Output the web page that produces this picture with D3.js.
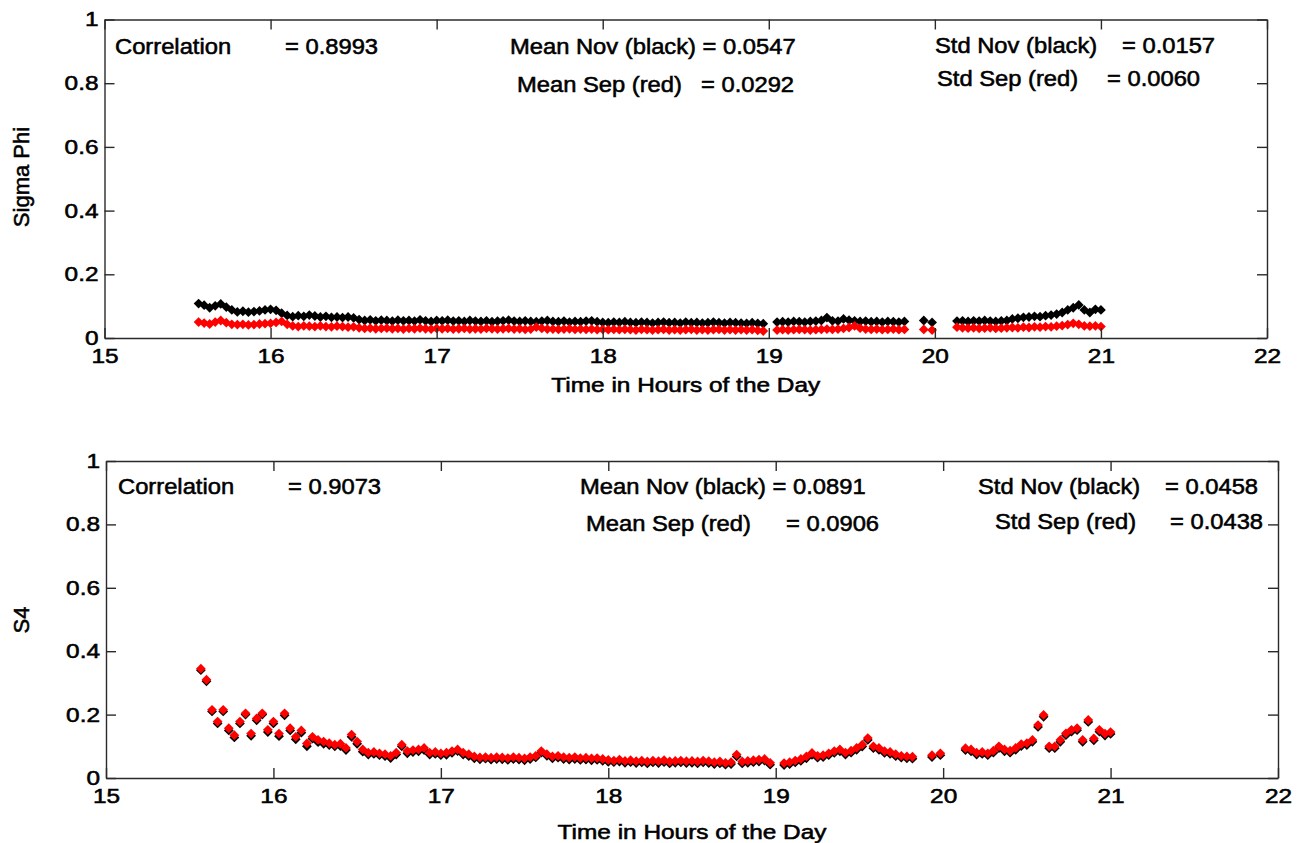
<!DOCTYPE html>
<html><head><meta charset="utf-8">
<script src="https://cdn.jsdelivr.net/npm/d3@7"></script>
<style>
body{margin:0;background:#fff}
svg{display:block}
text{font-family:"Liberation Sans",Arial,Helvetica,sans-serif;fill:#000;stroke:#000;stroke-width:0.55px}
</style>
</head><body>
<svg id="c" width="1306" height="843"></svg>
<script>
// ---- data ----
// sample times, minutes after 15:00
const minutes = [
  34,36,38,40,42,44,46,48,50,52,54,56,58,60,62,64,66,68,70,72,
  74,76,78,80,82,84,86,88,90,92,94,96,98,100,102,104,106,108,110,112,
  114,116,118,120,122,124,126,128,130,132,134,136,138,140,142,144,146,148,150,152,
  154,156,158,160,162,164,166,168,170,172,174,176,178,180,182,184,186,188,190,192,
  194,196,198,200,202,204,206,208,210,212,214,216,218,220,222,224,226,228,230,232,
  234,236,238,
  243,245,247,249,251,253,255,257,259,261,263,265,267,269,271,273,275,277,279,281,283,285,287,289,
  296,299,
  308,310,312,314,316,318,320,322,324,326,328,330,332,334,336,338,340,342,344,346,348,350,352,354,356,358,360
];
const sigmaPhiNov = [
  .108,.103,.095,.101,.107,.097,.088,.082,.084,.081,
  .083,.085,.088,.090,.087,.078,.071,.067,.070,.068,
  .072,.069,.066,.068,.065,.066,.064,.066,.063,.058,
  .055,.057,.054,.056,.055,.053,.056,.054,.055,.053,
  .057,.054,.052,.055,.054,.056,.053,.054,.052,.055,
  .053,.052,.054,.051,.053,.054,.056,.053,.052,.054,
  .052,.051,.053,.055,.052,.051,.053,.050,.052,.051,
  .053,.054,.051,.049,.048,.050,.049,.051,.049,.048,
  .050,.049,.047,.049,.050,.048,.049,.047,.050,.048,
  .049,.047,.048,.050,.048,.047,.049,.048,.047,.046,
  .048,.046,.045,
  .050,.051,.050,.052,.051,.050,.052,.053,.055,.064,.054,.053,.060,.056,.054,.052,.053,.051,.052,.050,.052,.051,.050,.052,
  .055,.049,
  .053,.054,.052,.054,.053,.055,.053,.052,.054,.055,.060,.062,.065,.066,.068,.067,.070,.072,.075,.080,.088,.095,.104,.088,.080,.090,.088
];
const sigmaPhiSep = [
  .050,.047,.044,.050,.055,.048,.043,.042,.043,.041,
  .042,.044,.045,.046,.049,.052,.043,.038,.036,.038,
  .037,.036,.038,.036,.035,.037,.036,.034,.035,.032,
  .030,.031,.029,.030,.031,.029,.030,.028,.030,.029,
  .031,.029,.028,.030,.029,.030,.028,.029,.030,.028,
  .029,.028,.030,.029,.028,.029,.030,.028,.029,.027,
  .028,.034,.030,.028,.028,.027,.028,.029,.027,.028,
  .027,.028,.026,.027,.026,.027,.026,.027,.026,.025,
  .027,.026,.025,.026,.027,.025,.026,.025,.026,.027,
  .025,.026,.025,.026,.027,.025,.026,.025,.026,.025,
  .026,.024,.022,
  .025,.026,.025,.026,.027,.026,.025,.026,.027,.028,.027,.028,.030,.033,.038,.031,.028,.027,.028,.026,.027,.028,.026,.027,
  .027,.025,
  .034,.032,.031,.032,.030,.031,.032,.030,.031,.032,.033,.032,.034,.033,.035,.034,.036,.035,.037,.039,.042,.046,.043,.038,.037,.038,.036
];
const s4Nov = [
  .340,.305,.210,.172,.210,.150,.128,.172,.200,.133,
  .182,.200,.145,.172,.132,.198,.150,.122,.143,.100,
  .124,.113,.108,.104,.100,.101,.088,.130,.108,.083,
  .074,.076,.072,.069,.063,.074,.100,.078,.082,.084,
  .088,.074,.076,.072,.073,.079,.085,.074,.069,.062,
  .059,.061,.058,.060,.059,.057,.060,.058,.056,.060,
  .065,.080,.070,.062,.064,.060,.058,.060,.057,.058,
  .056,.057,.054,.051,.050,.052,.048,.050,.047,.049,
  .046,.049,.047,.050,.046,.048,.049,.047,.048,.046,
  .049,.047,.044,.046,.042,.044,.068,.046,.048,.050,
  .052,.055,.042,
  .041,.044,.049,.054,.062,.073,.064,.066,.072,.079,.084,.074,.080,.089,.099,.120,.094,.089,.079,.076,.069,.064,.062,.061,
  .066,.072,
  .088,.084,.074,.076,.072,.080,.094,.084,.080,.089,.101,.104,.114,.161,.193,.094,.094,.114,.135,.146,.151,.114,.177,.119,.146,.134,.139
];
const s4Sep = [
  .345,.310,.215,.178,.215,.157,.135,.178,.204,.140,
  .188,.204,.152,.178,.140,.204,.157,.130,.150,.109,
  .130,.120,.115,.110,.105,.108,.095,.137,.115,.090,
  .080,.082,.078,.075,.070,.080,.105,.085,.088,.090,
  .095,.080,.082,.078,.080,.085,.090,.080,.075,.068,
  .065,.066,.064,.066,.065,.063,.066,.064,.062,.066,
  .070,.085,.075,.068,.070,.066,.064,.066,.063,.064,
  .062,.063,.060,.057,.055,.058,.054,.056,.053,.055,
  .052,.055,.053,.056,.052,.054,.055,.053,.054,.052,
  .055,.053,.050,.052,.048,.050,.074,.052,.054,.056,
  .058,.060,.048,
  .047,.050,.055,.060,.068,.079,.070,.072,.078,.085,.090,.080,.086,.095,.105,.126,.100,.095,.085,.082,.075,.070,.068,.067,
  .072,.078,
  .094,.090,.080,.082,.078,.086,.100,.090,.086,.095,.107,.110,.120,.167,.199,.100,.100,.120,.141,.152,.157,.120,.183,.125,.152,.140,.145
];
const xTicks = [15,16,17,18,19,20,21,22];
const yTicks = [0,0.2,0.4,0.6,0.8,1];
const yTickLabels = ["0","0.2","0.4","0.6","0.8","1"];
const xTitle = "Time in Hours of the Day";
const yTitles = ["Sigma Phi","S4"];
const notesSigma = ["Correlation","= 0.8993","Mean Nov (black) = 0.0547","Mean Sep (red)","= 0.0292","Std Nov (black)","= 0.0157","Std Sep (red)","= 0.0060"];
const notesS4 = ["Correlation","= 0.9073","Mean Nov (black) = 0.0891","Mean Sep (red)","= 0.0906","Std Nov (black)","= 0.0458","Std Sep (red)","= 0.0438"];

// ---- layout ----
const svg = d3.select("#c");
const TICK_SX = 1.22, NOTE_SX = 1.08;
const panels = [
  {l:104.5, r:1267, t:19.5, b:338, yt:yTitles[0], ytY:177, xtY:392, nov:sigmaPhiNov, sep:sigmaPhiSep, notes:notesSigma,
   notePos:[[115,54],[285,54],[510,54],[517,92],[701,92],[935,53],[1122,53],[937,86],[1107,86]]},
  {l:106, r:1278, t:461, b:778, yt:yTitles[1], ytY:620, xtY:839, nov:s4Nov, sep:s4Sep, notes:notesS4,
   notePos:[[118,494],[288,494],[580,494],[586,531],[786,531],[978,494],[1165,494],[995,529],[1170,529]]}
];

function txt(g, s, x, y, size, sx, anchor){
  g.append("text")
   .attr("transform", `translate(${x},${y}) scale(${sx},1)`)
   .attr("text-anchor", anchor || "start")
   .style("font-size", size + "px")
   .text(s);
}

const marker = d3.symbol().type(d3.symbolSquare).size(48);
const axisColor = "#2a2a2a";

panels.forEach(p => {
  const g = svg.append("g");
  const x = d3.scaleLinear().domain([15,22]).range([p.l, p.r]);
  const y = d3.scaleLinear().domain([0,1]).range([p.b, p.t]);

  // data markers: Nov (black) first, Sep (red) on top
  const pts = (arr) => minutes.map((m,i) => ({t: 15 + m/60, v: arr[i]})).filter(d => d.v != null);
  [[p.nov,"#000"],[p.sep,"#ff0000"]].forEach(([arr,col]) => {
    g.append("g").selectAll("path").data(pts(arr)).join("path")
      .attr("d", marker)
      .attr("transform", d => `translate(${x(d.t)},${y(d.v)}) rotate(45)`)
      .attr("fill", col);
  });

  // axes (ticks pointing inward on all four sides)
  const styleAxis = sel => {
    sel.select(".domain").attr("stroke", axisColor).attr("stroke-width", 1.4);
    sel.selectAll(".tick line").attr("stroke", axisColor).attr("stroke-width", 1.4);
    sel.selectAll("text").attr("fill","#000").style("font-size","20px")
       .style("font-family",'"Liberation Sans",Arial,sans-serif');
  };
  const gb = g.append("g").attr("transform", `translate(0,${p.b})`)
    .call(d3.axisBottom(x).tickValues(xTicks).tickSize(-10).tickSizeOuter(0).tickPadding(11).tickFormat(d3.format("d")));
  styleAxis(gb);
  gb.selectAll(".tick text").attr("transform", `scale(${TICK_SX},1)`);

  const gt = g.append("g").attr("transform", `translate(0,${p.t})`)
    .call(d3.axisTop(x).tickValues(xTicks).tickSize(-10).tickSizeOuter(0).tickFormat(""));
  styleAxis(gt);

  const gl = g.append("g").attr("transform", `translate(${p.l},0)`)
    .call(d3.axisLeft(y).tickValues(yTicks).tickSize(-10).tickSizeOuter(0).tickPadding(6)
      .tickFormat((d,i) => yTickLabels[i]));
  styleAxis(gl);
  gl.selectAll(".tick text").attr("x", -6 / TICK_SX).attr("transform", `scale(${TICK_SX},1)`);

  const gr = g.append("g").attr("transform", `translate(${p.r},0)`)
    .call(d3.axisRight(y).tickValues(yTicks).tickSize(-10).tickSizeOuter(0).tickFormat(""));
  styleAxis(gr);

  // titles
  txt(g, xTitle, (p.l + p.r) / 2, p.xtY, 20, TICK_SX, "middle");
  g.append("text")
    .attr("transform", `translate(29,${p.ytY}) rotate(-90)`)
    .attr("text-anchor","middle")
    .style("font-size","22px")
    .text(p.yt);

  // statistics annotations
  p.notes.forEach((s,i) => txt(g, s, p.notePos[i][0], p.notePos[i][1], 22, NOTE_SX, "start"));
});
</script>
</body></html>
